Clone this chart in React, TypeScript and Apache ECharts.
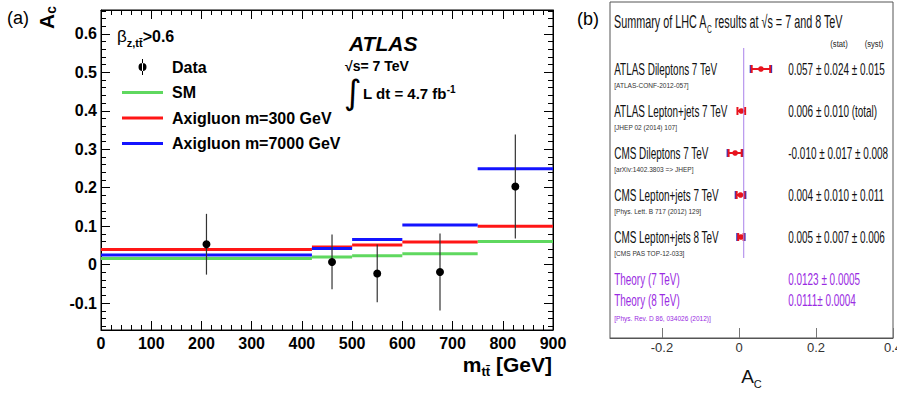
import React, { useEffect, useRef } from "react";
import * as echarts from "echarts";

// ---------- Panel (a): A_C vs m_tt ----------
const massBinEdges = [0, 420, 500, 600, 750, 900];
const smAc = [0.016, 0.02, 0.023, 0.028, 0.06];
const axi300Ac = [0.039, 0.046, 0.051, 0.059, 0.1];
const axi7000Ac = [0.025, 0.042, 0.065, 0.103, 0.249];
const dataMass = [210, 460, 550, 675, 825];
const dataAc = [0.053, 0.007, -0.023, -0.019, 0.203];
const dataAcErr = [0.079, 0.071, 0.075, 0.1, 0.135];
const legendNames = ["Data", "SM", "Axigluon m=300 GeV", "Axigluon m=7000 GeV"];

// ---------- Panel (b): summary of LHC A_C ----------
const measNames = [
  "ATLAS Dileptons 7 TeV",
  "ATLAS Lepton+jets 7 TeV",
  "CMS Dileptons 7 TeV",
  "CMS Lepton+jets 7 TeV",
  "CMS Lepton+jets 8 TeV",
];
const measRefs = [
  "[ATLAS-CONF-2012-057]",
  "[JHEP 02 (2014) 107]",
  "[arXiv:1402.3803 => JHEP]",
  "[Phys. Lett. B 717 (2012) 129]",
  "[CMS PAS TOP-12-033]",
];
const measValues = [0.057, 0.006, -0.01, 0.004, 0.005];
const measStat = [0.024, 0.01, 0.017, 0.01, 0.007];
const measSyst = [0.015, 0, 0.008, 0.011, 0.006];
const measTexts = [
  "0.057 ± 0.024 ± 0.015",
  "0.006 ± 0.010 (total)",
  "-0.010 ± 0.017 ± 0.008",
  "0.004 ± 0.010 ± 0.011",
  "0.005 ± 0.007 ± 0.006",
];
const theoryNames = ["Theory (7 TeV)", "Theory (8 TeV)"];
const theoryTexts = ["0.0123 ± 0.0005", "0.0111± 0.0004"];
const theoryValues = [0.0123, 0.0111];
const theoryRef = "[Phys. Rev. D 86, 034026 (2012)]";

// ---------- styling ----------
const SANS = '"Liberation Sans", Arial, Helvetica, sans-serif';
const GREEN = "#5fd85f";
const RED = "#ff1616";
const BLUE = "#1414ff";
const PURPLE = "#9a2be2";
const NAME_X = -0.324;
const VALUE_X = 0.128;
const SQUEEZE = 0.585;

const LINE_ICON = "path://M0,0 H40 V3 H0 Z";
const DATA_ICON = "path://M3.5,0 H4.5 V16 H3.5 Z M0,8 A4,4 0 1,0 8,8 A4,4 0 1,0 0,8 Z";

function stepSeries(name: string, values: number[], color: string) {
  return {
    name,
    type: "custom",
    xAxisIndex: 0,
    yAxisIndex: 0,
    itemStyle: { color },
    encode: { x: [0, 1], y: 2 },
    data: values.map((v, i) => [massBinEdges[i], massBinEdges[i + 1], v]),
    renderItem: (params: any, api: any) => {
      const p1 = api.coord([api.value(0), api.value(2)]);
      const p2 = api.coord([api.value(1), api.value(2)]);
      return {
        type: "line",
        shape: { x1: p1[0], y1: p1[1], x2: p2[0], y2: p2[1] },
        style: { stroke: color, lineWidth: 3 },
      };
    },
  };
}

export default function App() {
  const ref = useRef<HTMLDivElement>(null);
  useEffect(() => {
    if (!ref.current) return;
    const chart = echarts.init(ref.current, null, { renderer: "svg" });

    const tickCommon = {
      axisLine: { show: true, onZero: false, lineStyle: { color: "#000", width: 1 } },
      axisTick: { show: true, inside: true, length: 9, lineStyle: { color: "#000" } },
      minorTick: { show: true, splitNumber: 5, length: 5, lineStyle: { color: "#000" } },
      splitLine: { show: false },
    };
    const labelA = { fontSize: 16, fontWeight: "bold", fontFamily: SANS, color: "#000" };

    const option: any = {
      animation: false,
      backgroundColor: "#fff",
      grid: [
        { left: 101, top: 10, width: 452, height: 320, show: true, borderColor: "#000", borderWidth: 1, outerBoundsMode: "none", containLabel: false },
        { left: 610, top: 2, width: 283, height: 336, show: true, borderColor: "#555", borderWidth: 1, outerBoundsMode: "none", containLabel: false },
      ],
      xAxis: [
        {
          type: "value", gridIndex: 0, min: 0, max: 900, interval: 100, position: "bottom",
          ...tickCommon,
          axisLabel: { ...labelA, margin: 5 },
        },
        {
          type: "value", gridIndex: 0, min: 0, max: 900, interval: 100, position: "top",
          ...tickCommon,
          axisLabel: { show: false },
        },
        {
          type: "value", gridIndex: 1, min: -0.335, max: 0.4, splitNumber: 4, position: "bottom",
          axisLine: { show: true, onZero: false, lineStyle: { color: "#555", width: 1 } },
          axisTick: { show: true, inside: true, length: 10, lineStyle: { color: "#777" } },
          splitLine: { show: false },
          axisLabel: { showMinLabel: false, fontSize: 13, fontFamily: SANS, color: "#333", margin: 3 },
          name: "{a|A}{c|C}",
          nameLocation: "middle",
          nameGap: 26,
          nameTextStyle: {
            rich: {
              a: { fontSize: 19, fontFamily: SANS, color: "#111" },
              c: { fontSize: 11, fontFamily: SANS, color: "#111", padding: [14, 0, 0, 0] },
            },
          },
        },
      ],
      yAxis: [
        {
          type: "value", gridIndex: 0, min: -0.17, max: 0.662, splitNumber: 8, position: "left",
          ...tickCommon,
          axisLabel: { ...labelA, margin: 4, showMinLabel: false, showMaxLabel: false },
        },
        {
          type: "value", gridIndex: 0, min: -0.17, max: 0.662, splitNumber: 8, position: "right",
          ...tickCommon,
          axisLabel: { show: false },
        },
        {
          type: "value", gridIndex: 1, min: -1.595, max: 6.405, inverse: true, show: false,
        },
      ],
      legend: {
        left: 122,
        top: 59,
        padding: 0,
        orient: "vertical",
        itemWidth: 41,
        itemHeight: 16,
        itemGap: 9.5,
        selectedMode: false,
        textStyle: { fontSize: 16, fontWeight: "bold", fontFamily: SANS, color: "#000", padding: [0, 0, 0, 4] },
        data: [
          { name: legendNames[0], icon: DATA_ICON, itemStyle: { color: "#000" } },
          { name: legendNames[1], icon: LINE_ICON, itemStyle: { color: GREEN } },
          { name: legendNames[2], icon: LINE_ICON, itemStyle: { color: RED } },
          { name: legendNames[3], icon: LINE_ICON, itemStyle: { color: BLUE } },
        ],
      },
      series: [
        stepSeries(legendNames[1], smAc, GREEN),
        stepSeries(legendNames[2], axi300Ac, RED),
        stepSeries(legendNames[3], axi7000Ac, BLUE),
        {
          name: legendNames[0],
          type: "custom",
          xAxisIndex: 0,
          yAxisIndex: 0,
          itemStyle: { color: "#000" },
          encode: { x: 0, y: 1 },
          data: dataMass.map((m, i) => [m, dataAc[i], dataAcErr[i]]),
          renderItem: (params: any, api: any) => {
            const x = api.value(0), y = api.value(1), e = api.value(2);
            const c = api.coord([x, y]);
            const t = api.coord([x, y + e]);
            const b = api.coord([x, y - e]);
            return {
              type: "group",
              children: [
                { type: "line", shape: { x1: c[0], y1: t[1], x2: c[0], y2: b[1] }, style: { stroke: "#333", lineWidth: 1.2 } },
                { type: "circle", shape: { cx: c[0], cy: c[1], r: 4 }, style: { fill: "#000" } },
              ],
            };
          },
        },
        // panel (b) theory line
        {
          type: "line",
          xAxisIndex: 2,
          yAxisIndex: 2,
          symbol: "none",
          silent: true,
          lineStyle: { color: "#a982ea", width: 1 },
          data: [
            [theoryValues[0], -0.5],
            [theoryValues[0], 4.5],
          ],
        },
        // panel (b) measurements
        {
          type: "custom",
          xAxisIndex: 2,
          yAxisIndex: 2,
          encode: { x: 0, y: 1 },
          data: measValues.map((v, i) => [v, i, measStat[i], Math.sqrt(measStat[i] ** 2 + measSyst[i] ** 2)]),
          renderItem: (params: any, api: any) => {
            const v = api.value(0), row = api.value(1), st = api.value(2), tot = api.value(3);
            const c = api.coord([v, row]);
            const xl = api.coord([v - st, row])[0];
            const xr = api.coord([v + st, row])[0];
            const tl = api.coord([v - tot, row])[0];
            const children: any[] = [];
            if (tot > st + 1e-9) {
              const w = Math.max(2, xl - tl);
              children.push({ type: "rect", shape: { x: xl - w, y: c[1] - 4, width: w, height: 8 }, style: { fill: "#2a35c8" } });
              children.push({ type: "rect", shape: { x: xr, y: c[1] - 4, width: w, height: 8 }, style: { fill: "#2a35c8" } });
            }
            children.push({ type: "line", shape: { x1: xl, y1: c[1], x2: xr, y2: c[1] }, style: { stroke: "#e8141e", lineWidth: 2 } });
            children.push({ type: "line", shape: { x1: xl, y1: c[1] - 4, x2: xl, y2: c[1] + 4 }, style: { stroke: "#e8141e", lineWidth: 2 } });
            children.push({ type: "line", shape: { x1: xr, y1: c[1] - 4, x2: xr, y2: c[1] + 4 }, style: { stroke: "#e8141e", lineWidth: 2 } });
            children.push({ type: "circle", shape: { cx: c[0], cy: c[1], r: 2.8 }, style: { fill: "#e8141e" } });
            return { type: "group", children };
          },
        },
      ],
    };

    chart.setOption(option);

    // Place panel (b) row texts through the panel's own axes.
    const toPx = (x: number, row: number) => chart.convertToPixel({ gridIndex: 1 } as any, [x, row]) as number[];
    const rowText = (x: number, row: number, text: string, size: number, fill: string, scale: number) => {
      const p = toPx(x, row);
      return {
        type: "text", x: p[0], y: p[1], scaleX: scale,
        style: { text, fontSize: size, fontFamily: SANS, fill, verticalAlign: "middle" },
      };
    };
    const rightTexts: any[] = [];
    measNames.forEach((t, i) => rightTexts.push(rowText(NAME_X, i, t, 17, "#111", SQUEEZE)));
    measRefs.forEach((t, i) => rightTexts.push(rowText(NAME_X, i + 0.38, t, 8, "#333", 0.82)));
    measTexts.forEach((t, i) => rightTexts.push(rowText(VALUE_X, i, t, 17, "#111", SQUEEZE)));
    theoryNames.forEach((t, i) => rightTexts.push(rowText(NAME_X, 5 + 0.5 * i, t, 17, PURPLE, SQUEEZE)));
    theoryTexts.forEach((t, i) => rightTexts.push(rowText(VALUE_X, 5 + 0.5 * i, t, 17, PURPLE, SQUEEZE)));
    rightTexts.push(rowText(NAME_X, 5.93, theoryRef, 8, PURPLE, 0.82));

    chart.setOption({
      graphic: [
        { type: "text", x: 7, y: 18, style: { text: "(a)", fontSize: 18, fontFamily: SANS, fill: "#000", verticalAlign: "middle" } },
        {
          type: "text", x: 46, y: 29, rotation: Math.PI / 2,
          style: {
            text: "{a|A}{c|c}", verticalAlign: "middle", align: "left",
            rich: {
              a: { fontSize: 21, fontWeight: "bold", fontFamily: SANS, fill: "#000" },
              c: { fontSize: 14, fontWeight: "bold", fontFamily: SANS, fill: "#000", padding: [10, 0, 0, 0] },
            },
          },
        },
        {
          type: "text", x: 117, y: 36,
          style: {
            text: "{b|β}{s|z,tt̄}{t|>0.6}", verticalAlign: "middle",
            rich: {
              b: { fontSize: 17, fontFamily: SANS, fill: "#000" },
              s: { fontSize: 11, fontWeight: "bold", fontFamily: SANS, fill: "#000", padding: [14, 0, 0, 0] },
              t: { fontSize: 16, fontWeight: "bold", fontFamily: SANS, fill: "#000" },
            },
          },
        },
        { type: "text", x: 349, y: 43, style: { text: "ATLAS", fontSize: 21, fontWeight: "bold", fontStyle: "italic", fontFamily: SANS, fill: "#000", verticalAlign: "middle" } },
        { type: "text", x: 345, y: 66, style: { text: "√s= 7 TeV", fontSize: 14, fontWeight: "bold", fontFamily: SANS, fill: "#000", verticalAlign: "middle" } },
        { type: "text", x: 344, y: 92, style: { text: "∫", fontSize: 34, fontFamily: '"DejaVu Sans", sans-serif', fill: "#000", verticalAlign: "middle" } },
        {
          type: "text", x: 363, y: 89,
          style: {
            text: "{t|L dt = 4.7 fb}{s|-1}", verticalAlign: "middle",
            rich: {
              t: { fontSize: 15, fontWeight: "bold", fontFamily: SANS, fill: "#000", padding: [8, 0, 0, 0] },
              s: { fontSize: 10, fontWeight: "bold", fontFamily: SANS, fill: "#000" },
            },
          },
        },
        {
          type: "text", x: 552, y: 364,
          style: {
            text: "{m|m}{s|tt̄}{m| [GeV]}", align: "right", verticalAlign: "middle",
            rich: {
              m: { fontSize: 21, fontWeight: "bold", fontFamily: SANS, fill: "#000" },
              s: { fontSize: 13, fontWeight: "bold", fontFamily: SANS, fill: "#000", padding: [14, 0, 0, 0] },
            },
          },
        },
        // panel (b)
        { type: "text", x: 577, y: 19, style: { text: "(b)", fontSize: 18, fontFamily: SANS, fill: "#000", verticalAlign: "middle" } },
        {
          type: "text", x: 614, y: 22, scaleX: 0.6,
          style: {
            text: "{t|Summary of LHC A}{s|C}{t| results at √s = 7 and 8 TeV}", verticalAlign: "middle",
            rich: {
              t: { fontSize: 18, fontFamily: SANS, fill: "#111" },
              s: { fontSize: 11, fontFamily: SANS, fill: "#111", padding: [14, 0, 0, 0] },
            },
          },
        },
        { type: "text", x: 839, y: 44, scaleX: 0.85, style: { text: "(stat)", fontSize: 9, fontFamily: SANS, fill: "#222", align: "center", verticalAlign: "middle" } },
        { type: "text", x: 874, y: 44, scaleX: 0.85, style: { text: "(syst)", fontSize: 9, fontFamily: SANS, fill: "#222", align: "center", verticalAlign: "middle" } },
        ...rightTexts,
      ],
    });

    return () => chart.dispose();
  }, []);

  return (
    <div
      ref={ref}
      style={{ position: "fixed", left: 0, top: 0, width: 897, height: 394, background: "#fff" }}
    />
  );
}
